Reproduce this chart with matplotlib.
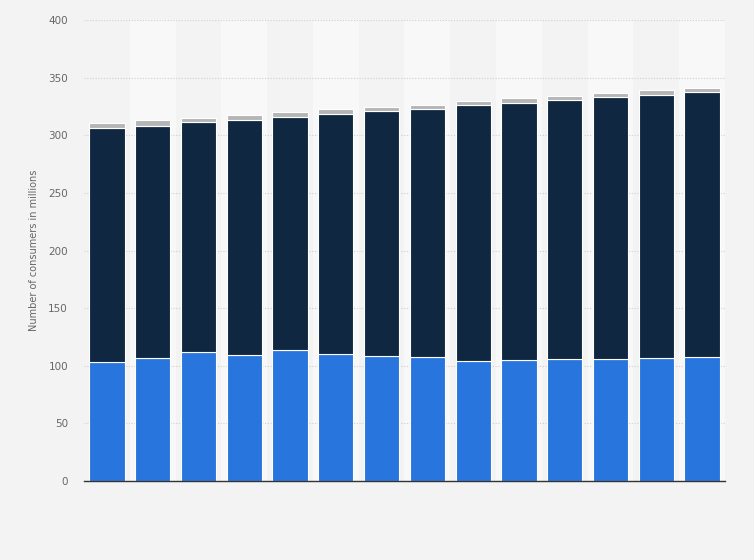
import numpy as np
import matplotlib
matplotlib.use("Agg")
import matplotlib.pyplot as plt

# stacked values (millions)
blue = [103.2, 106.5, 111.7, 109.3, 113.7, 110.5, 108.5, 107.3, 103.8, 104.7, 105.9, 105.9, 106.5, 107.3]
navy_top = [306.3, 308.0, 311.2, 313.2, 315.8, 318.4, 321.0, 322.8, 326.2, 328.0, 330.6, 333.0, 335.2, 337.5]
grey_top = [310.6, 313.2, 315.0, 317.6, 320.2, 322.8, 324.5, 326.5, 330.0, 332.6, 334.6, 337.0, 339.5, 341.0]

blue = np.array(blue)
navy = np.array(navy_top) - blue
grey = np.array(grey_top) - np.array(navy_top)
x = np.arange(len(blue))

fig = plt.figure(figsize=(7.54, 5.6), dpi=100)
fig.patch.set_facecolor("#f3f3f3")
ax = fig.add_axes([0.1114, 0.141, 0.8501, 0.823])
ax.set_facecolor("#f3f3f3")

# alternating column bands
for i in x:
    if i % 2 == 1:
        ax.axvspan(i - 0.5, i + 0.5, color="#f8f8f8", zorder=0, lw=0)

ax.set_ylim(0, 400)
ax.set_xlim(-0.5, len(x) - 0.5)
ax.set_yticks(np.arange(0, 401, 50))
ax.yaxis.grid(True, linestyle=(0, (1, 1.5)), color="#cfcfcf", linewidth=0.8, zorder=1)
ax.set_axisbelow(True)

w = 0.77
ax.bar(x, blue, width=w, color="#2876dd", edgecolor="white", linewidth=0.8, zorder=3)
ax.bar(x, navy, bottom=blue, width=w, color="#0f2740", edgecolor="white", linewidth=0.8, zorder=3)
ax.bar(x, grey, bottom=np.array(navy_top), width=w, color="#b5b5b5", edgecolor="white", linewidth=0.8, zorder=3)

for s in ["top", "right", "left"]:
    ax.spines[s].set_visible(False)
ax.spines["bottom"].set_color("#333333")
ax.spines["bottom"].set_linewidth(1.0)
ax.spines["bottom"].set_zorder(4)

ax.set_xticks([])
ax.tick_params(axis="y", length=0, labelsize=7.5, labelcolor="#666666", pad=11.5)
ax.set_ylabel("Number of consumers in millions", fontsize=7, color="#666666", labelpad=7)

fig.savefig("out.png", dpi=100, facecolor=fig.get_facecolor())
